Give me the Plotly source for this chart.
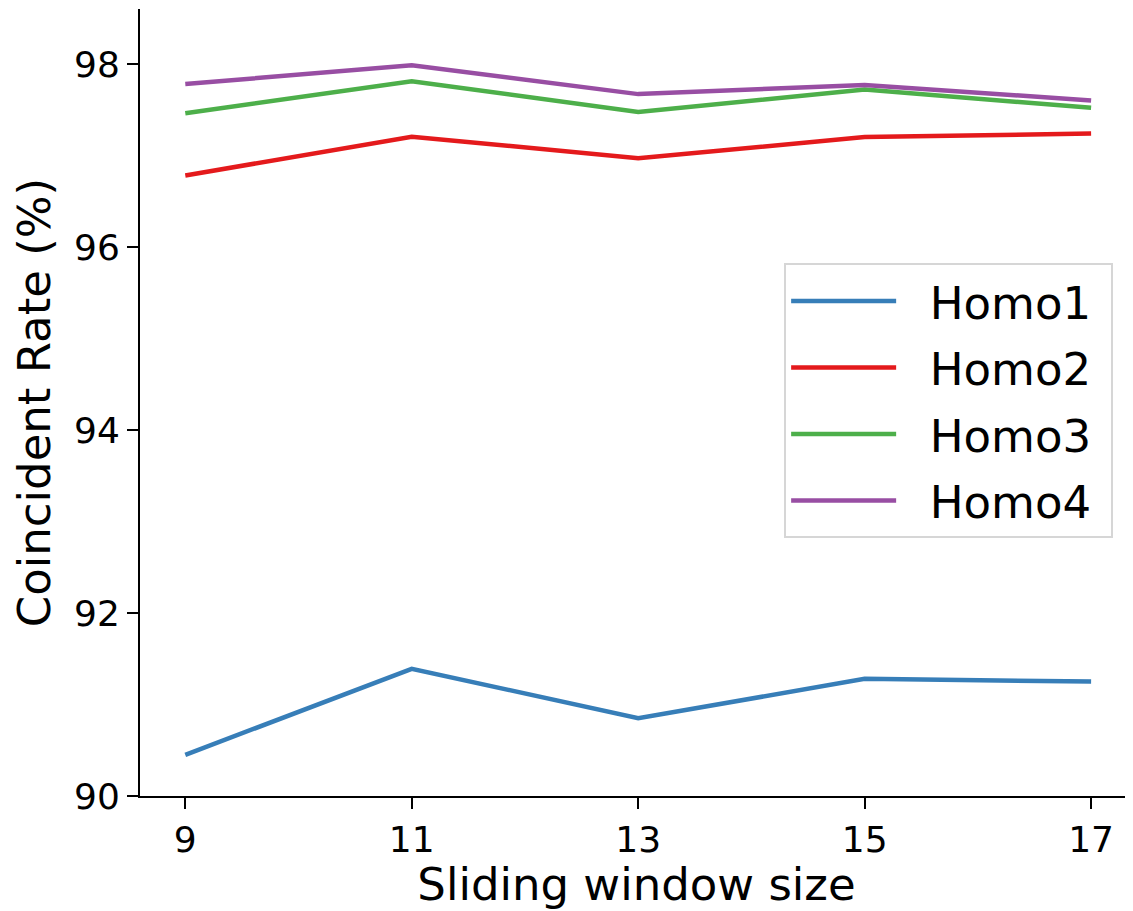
import plotly.graph_objects as go

window_sizes = [9, 11, 13, 15, 17]
homo1 = [90.45, 91.39, 90.85, 91.28, 91.25]
homo2 = [96.78, 97.205, 96.97, 97.20, 97.24]
homo3 = [97.46, 97.81, 97.475, 97.72, 97.52]
homo4 = [97.78, 97.985, 97.67, 97.77, 97.60]

series_names = ["Homo1", "Homo2", "Homo3", "Homo4"]
series_values = [homo1, homo2, homo3, homo4]
series_colors = ["#377eb8", "#e41a1c", "#4daf4a", "#984ea3"]

x_ticks = [9, 11, 13, 15, 17]
y_ticks = [90, 92, 94, 96, 98]

FONT = "DejaVu Sans"
NB = "\u00a0"

fig = go.Figure()
for name, vals, col in zip(series_names, series_values, series_colors):
    fig.add_trace(go.Scatter(
        x=window_sizes, y=vals, mode="lines",
        name=NB * 2 + name + NB,
        legendgroup=name,
        line=dict(color=col, width=4.5),
    ))

fig.update_layout(
    width=1125, height=903,
    margin=dict(l=132, r=0, t=1, b=115),
    paper_bgcolor="white", plot_bgcolor="white",
    font=dict(family=FONT, color="black"),
    xaxis=dict(
        range=[8.6, 17.37], tickmode="array", tickvals=x_ticks,
        ticktext=[str(v) for v in x_ticks],
        showgrid=False, zeroline=False,
        showline=True, linecolor="black", linewidth=2,
        ticks="outside", ticklen=11, tickwidth=2, tickcolor="black",
        tickfont=dict(size=36, family=FONT),
        title=dict(text="Sliding window size", font=dict(size=45, family=FONT), standoff=12),
    ),
    yaxis=dict(
        range=[90, 98.6], tickmode="array", tickvals=y_ticks,
        ticktext=[str(v) for v in y_ticks],
        showgrid=False, zeroline=False,
        showline=True, linecolor="black", linewidth=2,
        ticks="outside", ticklen=11, tickwidth=2, tickcolor="black",
        tickfont=dict(size=36, family=FONT),
        title=dict(text="Coincident Rate (%)", font=dict(size=45, family=FONT), standoff=10),
    ),
    legend=dict(
        x=0.98, xanchor="right", y=0.677, yanchor="top",
        bgcolor="rgba(255,255,255,0.8)", bordercolor="#d6d6d6", borderwidth=2,
        font=dict(size=45, family=FONT),
        itemwidth=105, tracegroupgap=5,
    ),
)

fig.write_html("out.html")
